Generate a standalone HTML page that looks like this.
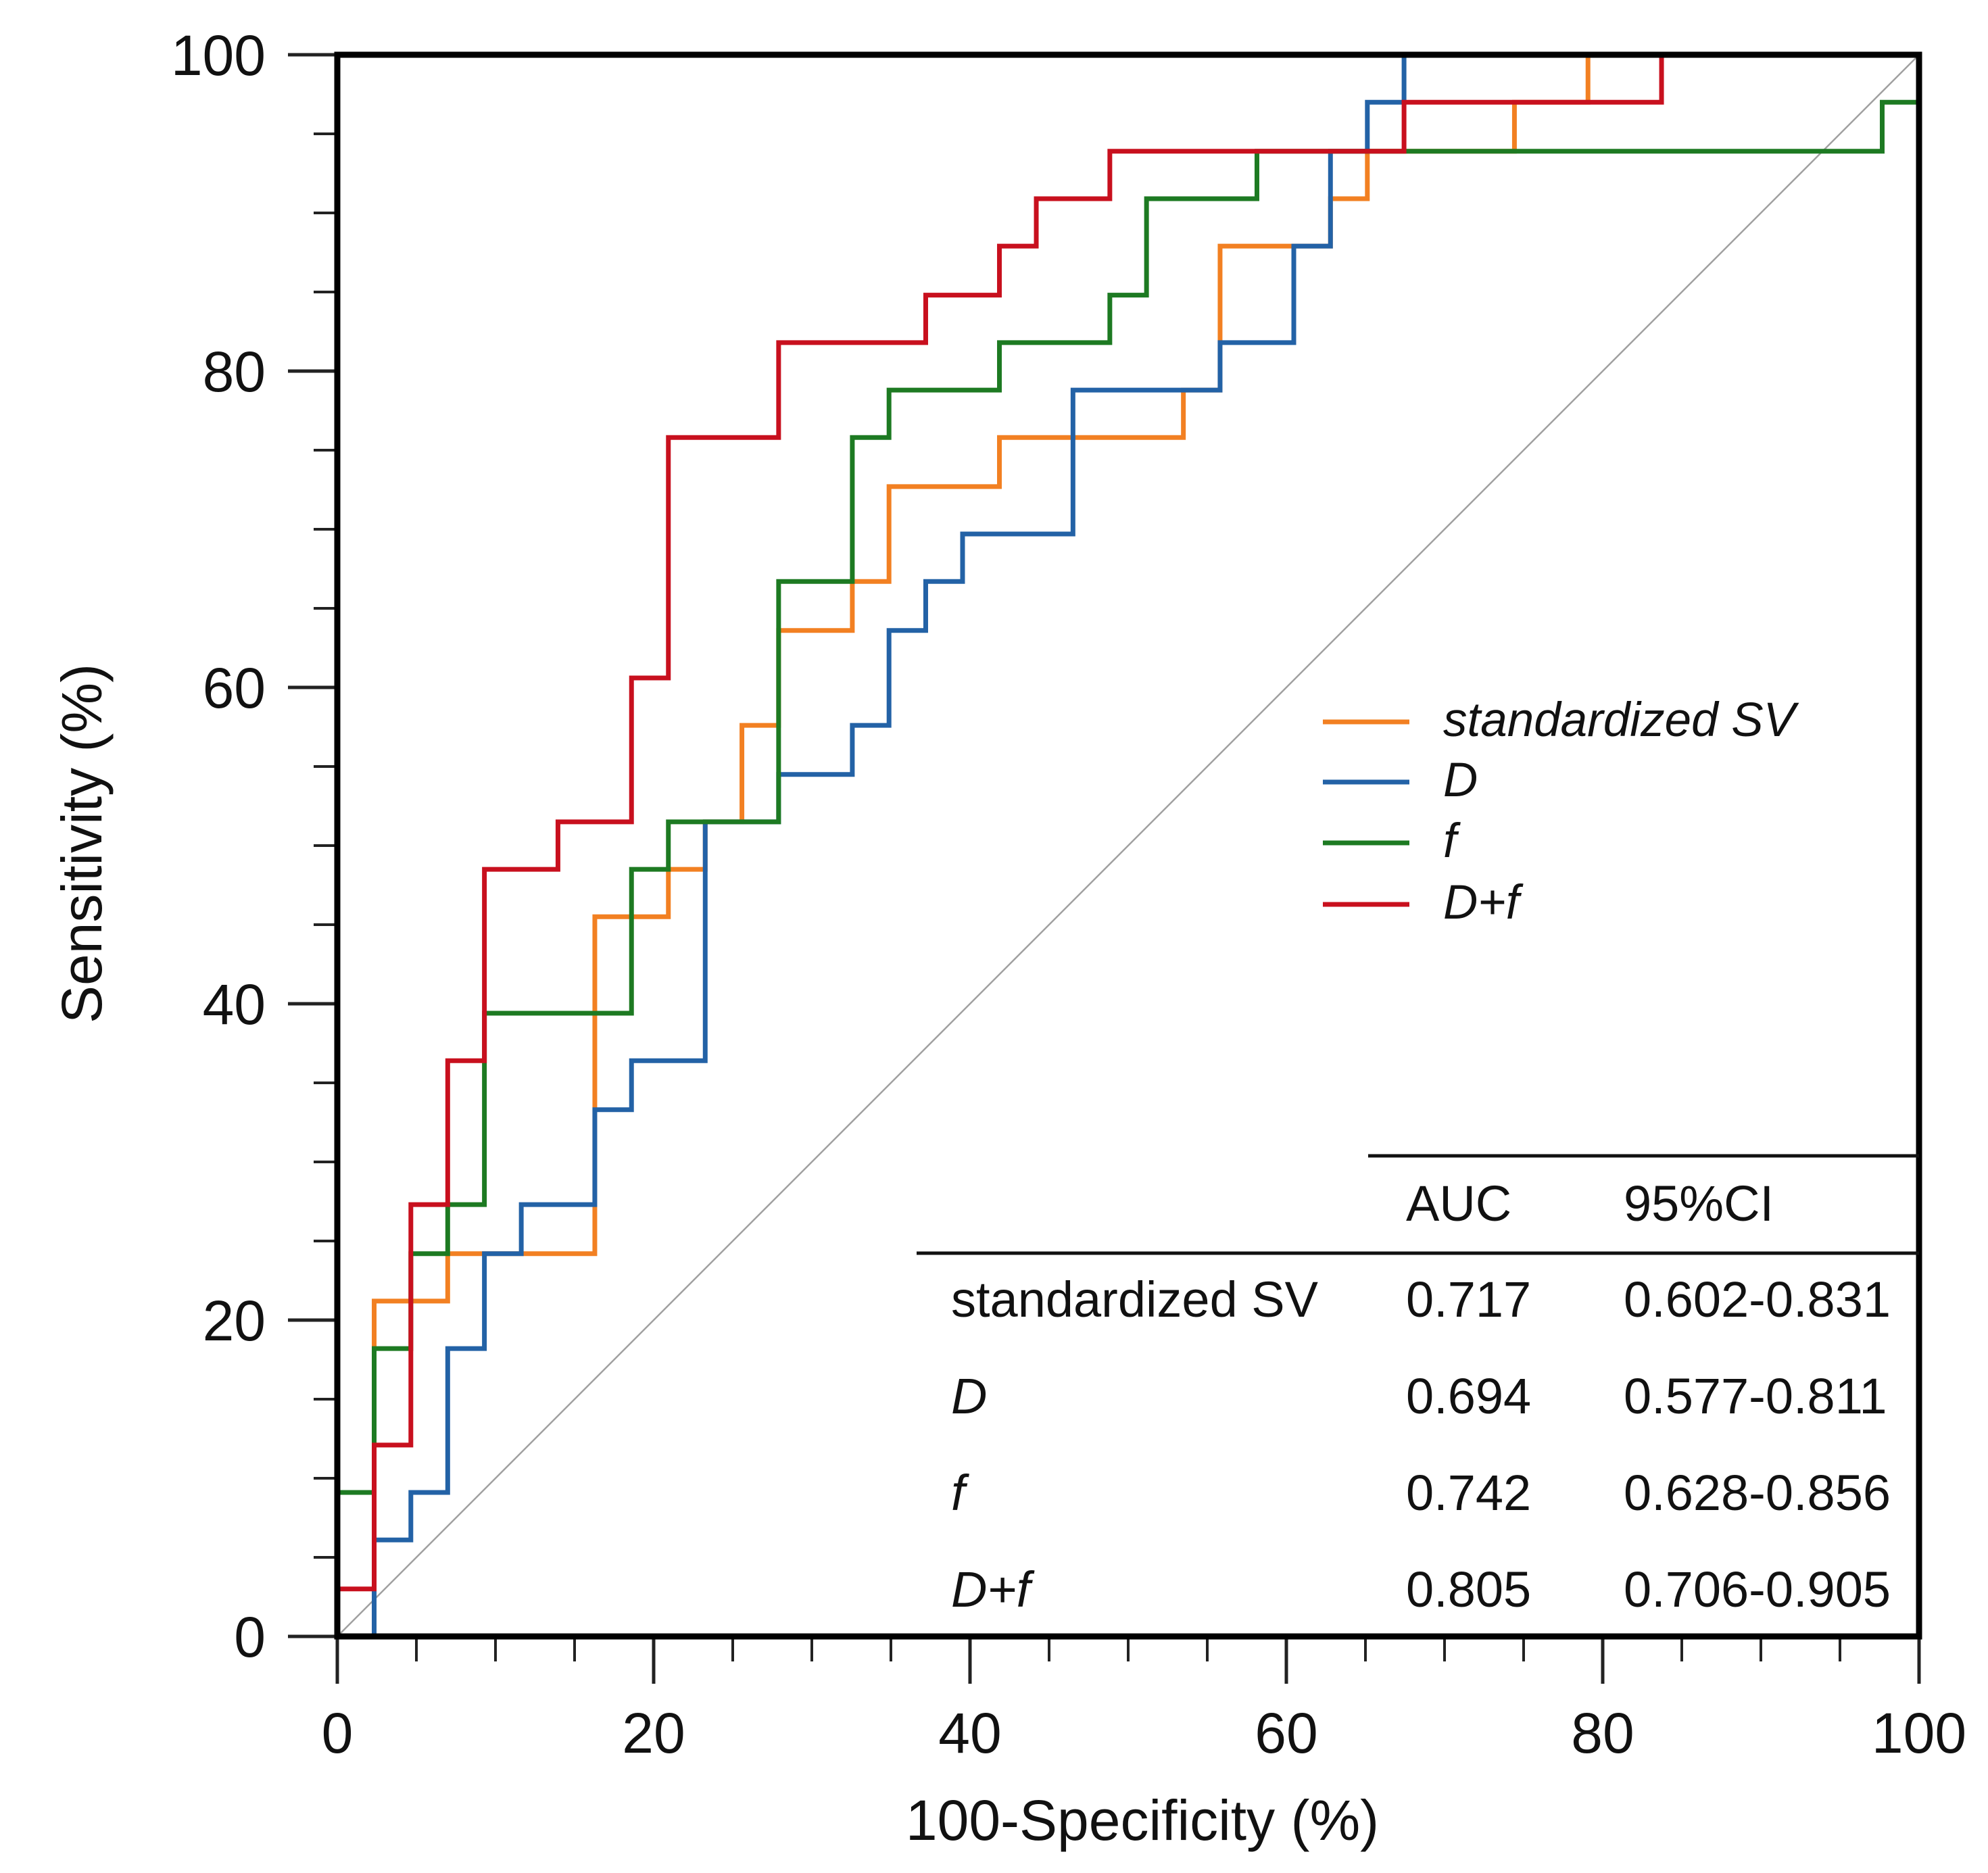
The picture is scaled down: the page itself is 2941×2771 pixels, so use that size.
<!DOCTYPE html>
<html><head><meta charset="utf-8"><style>
html,body{margin:0;padding:0;background:#fff;}
svg{display:block;font-family:"Liberation Sans",Arial,sans-serif;}
</style></head><body>
<svg id="chart" width="2941" height="2771" viewBox="0 0 2941 2771" xmlns="http://www.w3.org/2000/svg"></svg>
<script>
const xTicks = [0, 20, 40, 60, 80, 100];
const yTicks = [0, 20, 40, 60, 80, 100];
const seriesNames = ["standardized SV", "D", "f", "D+f"];
const seriesColors = ["#f28022", "#2362a6", "#1d7a22", "#c8101e"];
const svX = [0,2.33,6.98,16.28,20.93,23.26,25.58,27.9,32.56,34.88,41.86,53.49,55.81,62.79,65.12,74.42,79.07,100];
const svY = [0,21.2,24.2,45.5,48.5,51.5,57.6,63.6,66.7,72.7,75.8,78.8,87.9,90.9,93.9,97,100,100];
const dX = [0,2.33,4.65,6.98,9.3,11.63,16.28,18.6,23.26,27.9,32.56,34.88,37.2,39.53,46.51,55.81,60.47,62.79,65.12,67.44,100];
const dY = [0,6.1,9.1,18.2,24.2,27.3,33.3,36.4,51.5,54.5,57.6,63.6,66.7,69.7,78.8,81.8,87.9,93.9,97,100,100];
const fX = [0,0,2.33,4.65,6.98,9.3,18.6,20.93,27.9,32.56,34.88,41.86,48.84,51.16,58.14,97.67,100];
const fY = [0,9.1,18.2,24.2,27.3,39.4,48.5,51.5,66.7,75.8,78.8,81.8,84.8,90.9,93.9,97,100];
const dfX = [0,0,2.33,4.65,6.98,9.3,13.95,18.6,20.93,27.9,37.2,41.86,44.19,48.84,67.44,83.72,100];
const dfY = [0,3,12.1,27.3,36.4,48.5,51.5,60.6,75.8,81.8,84.8,87.9,90.9,93.9,97,100,100];
const tableHeaders = ["AUC", "95%CI"];
const aucValues = ["0.717", "0.694", "0.742", "0.805"];
const ciValues = ["0.602-0.831", "0.577-0.811", "0.628-0.856", "0.706-0.905"];

const L=499,R=2839,T=81,B=2421;
const sx=v=>L+(R-L)*v/100;
const sy=v=>B-(B-T)*v/100;
const NS="http://www.w3.org/2000/svg";
const svg=document.getElementById('chart');
function mk(tag,attrs,parent){const e=document.createElementNS(NS,tag);for(const k in attrs)e.setAttribute(k,attrs[k]);(parent||svg).appendChild(e);return e;}

const diag=mk('line',{x1:sx(0),y1:sy(0),x2:sx(100),y2:sy(100),stroke:'#a0a0a0','stroke-width':2.5});



for(let v=0;v<=100;v+=5){
  const major=v%20===0;
  const tx=mk('line',{x1:sx(v),y1:B,x2:sx(v),y2:B+(major?70:37),stroke:'#222','stroke-width':major?5:4});
  
  
  const ty=mk('line',{x1:L,y1:sy(v),x2:L-(major?73:35),y2:sy(v),stroke:'#222','stroke-width':major?5:4});
  
  
}
xTicks.forEach(v=>{
  const t=mk('text',{x:sx(v),y:2593,'text-anchor':'middle','font-size':84,fill:'#111'});t.textContent=v;
  
  
});
yTicks.forEach(v=>{
  const t=mk('text',{x:393,y:sy(v)+30,'text-anchor':'end','font-size':84,fill:'#111'});t.textContent=v;
  
  
});

function stepPath(xs,ys){let d=`M${sx(xs[0])},${sy(ys[0])}`;for(let i=1;i<xs.length;i++){d+=` L${sx(xs[i])},${sy(ys[i-1])} L${sx(xs[i])},${sy(ys[i])}`;}return d;}
const allX=[svX,dX,fX,dfX], allY=[svY,dY,fY,dfY];
const sNames=['curve-standardized-sv','curve-d','curve-f','curve-d-plus-f'];
for(let i=0;i<4;i++){
  const p=mk('path',{d:stepPath(allX[i],allY[i]),fill:'none',stroke:seriesColors[i],'stroke-width':7,'stroke-linejoin':'miter'});
  
  
}

const frame=mk('rect',{x:L,y:T,width:R-L,height:B-T,fill:'none',stroke:'#000','stroke-width':9});



const legY=[1068,1157,1247,1338];
for(let i=0;i<4;i++){
  const g=mk('g',{});
  
  
  mk('line',{x1:1957,y1:legY[i],x2:2085,y2:legY[i],stroke:seriesColors[i],'stroke-width':7},g);
  const t=mk('text',{x:2135,y:legY[i]+21,'font-size':71,'font-style':'italic',fill:'#111'},g);t.textContent=seriesNames[i];
}

const tl1=mk('line',{x1:2024,y1:1710,x2:R,y2:1710,stroke:'#111','stroke-width':5});


const tl2=mk('line',{x1:1356,y1:1854,x2:R,y2:1854,stroke:'#111','stroke-width':5});


const h1=mk('text',{x:2080,y:1806,'font-size':74,fill:'#111'});h1.textContent=tableHeaders[0];


const h2=mk('text',{x:2402,y:1806,'font-size':74,fill:'#111'});h2.textContent=tableHeaders[1];


const rowY=[1948,2091,2234,2377];
for(let i=0;i<4;i++){
  const a=mk('text',{x:1407,y:rowY[i],'font-size':74,fill:'#111','font-style':i===0?'normal':'italic'});a.textContent=seriesNames[i];
  
  
  const b=mk('text',{x:2080,y:rowY[i],'font-size':74,fill:'#111'});b.textContent=aucValues[i];
  
  
  const c=mk('text',{x:2402,y:rowY[i],'font-size':74,fill:'#111'});c.textContent=ciValues[i];
  
  
}

const xt=mk('text',{x:1690,y:2722,'text-anchor':'middle','font-size':84,fill:'#111'});xt.textContent='100-Specificity (%)';


const yt=mk('text',{x:0,y:0,'text-anchor':'middle','font-size':84,fill:'#111',transform:'translate(150,1248) rotate(-90)'});yt.textContent='Sensitivity (%)';


</script>
</body></html>
